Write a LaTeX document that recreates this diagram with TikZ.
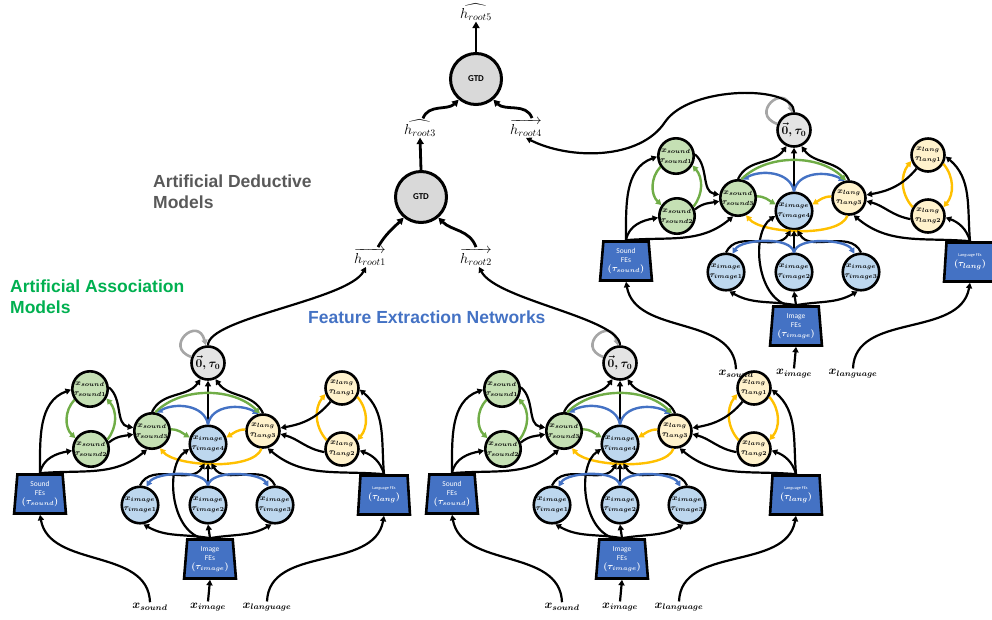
\documentclass[tikz,border=0pt]{standalone}
\usepackage[no-math]{fontspec}
\setsansfont{Carlito}
\newfontfamily\arialfont{Liberation Sans}
\usepackage{amsmath}
\usepackage{bm}
\usetikzlibrary{shapes.geometric,arrows.meta}
\definecolor{cgreen}{HTML}{C5E0B4}
\definecolor{cblue}{HTML}{BDD7EE}
\definecolor{cyellow}{HTML}{FFF2CC}
\definecolor{gtdfill}{HTML}{D9D9D9}
\definecolor{zfill}{HTML}{E4E4E4}
\definecolor{feblue}{HTML}{4472C4}
\definecolor{egreen}{HTML}{70AD47}
\definecolor{eblue}{HTML}{4472C4}
\definecolor{eyellow}{HTML}{FFC000}
\definecolor{loopgray}{HTML}{A6A6A6}
\definecolor{titlegray}{HTML}{595959}
\definecolor{titlegreen}{HTML}{00B050}
\newcommand{\ndtext}[2]{$\bm{x_{#1}}$\\$\bm{\tau_{#2}}$}
\tikzset{
 circ/.style={circle, draw=black, line width=2.6pt, minimum size=33pt, inner sep=0pt, align=center, font=\boldmath\fontsize{8.5}{10}\selectfont},
 gcirc/.style={circ, fill=cgreen},
 bcirc/.style={circ, fill=cblue},
 ycirc/.style={circ, fill=cyellow},
 zcirc/.style={circ, fill=zfill, font=\boldmath\fontsize{11.5}{12}\selectfont},
 gtd/.style={circle, draw=black, line width=3pt, fill=gtdfill, minimum size=51pt, inner sep=0pt, font=\sffamily\bfseries\fontsize{9}{10}\selectfont},
 fe/.style={trapezium, trapezium angle=84, trapezium stretches=true, minimum width=52pt, minimum height=39pt, draw=black, line width=2.6pt, fill=feblue, text=white, align=center, inner sep=0pt, font=\boldmath\sffamily\fontsize{7.5}{9}\selectfont},
 arr/.style={draw=black, line width=2.2pt, -{Triangle[length=5.5pt,width=6pt]}},
 tarr/.style={arr, line width=2.8pt, -{Triangle[length=6.5pt,width=7pt]}},
 garr/.style={arr, draw=egreen, line width=2.4pt},
 barr/.style={arr, draw=eblue, line width=2.4pt},
 yarr/.style={arr, draw=eyellow, line width=2.4pt},
 lparr/.style={arr, draw=loopgray, line width=2.6pt},
 xlab/.style={inner sep=1pt, font=\boldmath\fontsize{11.5}{12}\selectfont},
 hlab/.style={inner sep=1pt, font=\fontsize{14}{16}\selectfont},
 ttl/.style={anchor=north west, inner sep=0pt, align=left, font=\arialfont\bfseries\fontsize{17.5}{21}\selectfont},
}
\newcommand{\drawmodule}[2]{%
\begin{scope}[shift={#2}]
\node[zcirc] (#1z) at (208,-363) {$\bm{\vec{0}},\bm{\tau_0}$};
\node[gcirc] (#1s1) at (90,-389) {\ndtext{sound}{sound1}};
\node[gcirc] (#1s2) at (91,-449) {\ndtext{sound}{sound2}};
\node[gcirc] (#1s3) at (152,-431) {\ndtext{sound}{sound3}};
\node[bcirc] (#1i4) at (208,-444) {\ndtext{image}{image4}};
\node[ycirc] (#1l3) at (263,-431) {\ndtext{lang}{lang3}};
\node[ycirc] (#1l1) at (342,-388) {\ndtext{lang}{lang1}};
\node[ycirc] (#1l2) at (342,-449) {\ndtext{lang}{lang2}};
\node[bcirc] (#1i1) at (140,-505) {\ndtext{image}{image1}};
\node[bcirc] (#1i2) at (208,-505) {\ndtext{image}{image2}};
\node[bcirc] (#1i3) at (275,-505) {\ndtext{image}{image3}};
\node[fe] (#1sf) at (40,-494) {Sound\\FEs\\{\fontsize{9}{10}\selectfont$(\bm{\tau_{sound}})$}};
\node[fe] (#1if) at (210,-559) {Image\\FEs\\{\fontsize{9}{10}\selectfont$(\bm{\tau_{image}})$}};
\node[fe] (#1lf) at (384,-495) {{\fontsize{4.3}{6}\selectfont Language FEs}\\[1pt]{\fontsize{9.5}{10}\selectfont$(\bm{\tau_{lang}})$}};
\node[xlab] (#1xs) at (150,-607) {$\bm{x_{sound}}$};
\node[xlab] (#1xi) at (208,-607) {$\bm{x_{image}}$};
\node[xlab] (#1xl) at (267,-607) {$\bm{x_{language}}$};
\draw[lparr] (#1z.160) .. controls (163,-347) and (198,-315) .. (#1z.97);
\draw[arr] (#1i4.north) -- (#1z.south);
\draw[arr] (#1s3.north) to[out=65,in=-125] (#1z.-115);
\draw[arr] (#1l3.north) to[out=115,in=-55] (#1z.-65);
\draw[barr] (#1i4.north) to[out=100,in=30] (#1s3.75);
\draw[barr] (#1i4.north) to[out=80,in=150] (#1l3.105);
\draw[garr] (#1s3.80) to[out=45,in=135,looseness=0.9] (#1l3.100);
\draw[garr] (#1s3.5) to[out=0,in=150] (#1i4.160);
\draw[yarr] (#1l3.175) to[out=180,in=30] (#1i4.20);
\draw[yarr] (#1l3.-95) to[out=-110,in=-50,looseness=0.6] (#1s3.-65);
\draw[arr] (#1s1.5) to[out=-40,in=170] (#1s3.170);
\draw[arr] (#1s2.20) to[out=40,in=190] (#1s3.190);
\draw[garr] (#1s1.215) to[bend right=45] (#1s2.145);
\draw[garr] (#1s2.30) to[bend right=40] (#1s1.-30);
\draw[yarr] (#1l2.150) to[bend left=40] (#1l1.200);
\draw[yarr] (#1l1.-30) to[bend left=40] (#1l2.30);
\draw[arr] (#1l1.-130) to[out=-130,in=10] (#1l3.10);
\draw[arr] (#1l2.190) to[out=170,in=-15] (#1l3.-10);
\draw[arr] (#1sf.north) to[out=90,in=-160] (#1s1.182);
\draw[arr] (#1sf.north) to[out=80,in=-170] (#1s2.185);
\draw[arr] (#1sf.north) to[out=5,in=-140] (#1s3.-105);
\draw[arr] (#1lf.north) to[out=95,in=-40] (#1l1.-5);
\draw[arr] (#1lf.north) to[out=105,in=-20] (#1l2.-5);
\draw[arr] (#1lf.north) to[out=175,in=-40] (#1l3.-75);
\draw[arr] (#1if.north) to[out=170,in=-30] (#1i1.-80);
\draw[arr] (#1if.north) -- (#1i2.south);
\draw[arr] (#1if.north) to[out=10,in=-150] (#1i3.-100);
\draw[arr] ([xshift=-8pt]#1if.north) .. controls (170,-530) and (165,-465) .. (#1i4.195);
\draw[arr] (#1i1.north) to[out=65,in=-120] (#1i4.-100);
\draw[arr] (#1i2.north) -- (#1i4.south);
\draw[arr] (#1i3.north) to[out=115,in=-60] (#1i4.-80);
\draw[barr] (#1i2.north) to[out=100,in=60,looseness=0.7] (#1i1.70);
\draw[barr] (#1i2.north) to[out=80,in=120,looseness=0.7] (#1i3.110);
\draw[arr] (#1xs.north) to[out=92,in=-80] (#1sf.south);
\draw[arr] (#1xi.north) -- (#1if.south);
\draw[arr] (#1xl.north) to[out=88,in=-100] (#1lf.south);
\end{scope}}
\begin{document}
\begin{tikzpicture}[x=1pt,y=1pt]
\useasboundingbox (0,0) rectangle (992,-619);
\node[ttl, text=titlegray] (tded) at (153,-175) {Artificial Deductive\\Models};
\node[ttl, text=titlegreen] (tasso) at (10,-280) {Artificial Association\\Models};
\node[ttl, text=feblue] (tfen) at (308,-311) {Feature Extraction Networks};
\node[gtd] (g1) at (421,-197) {GTD};
\node[gtd] (g2) at (476,-79) {GTD};
\node[hlab] (hr5) at (476,-12) {$\widehat{h_{root5}}$};
\node[hlab] (hr3) at (420,-128) {$\widehat{h_{root3}}$};
\node[hlab] (hr4) at (526,-128) {$\overrightarrow{h_{root4}}$};
\node[hlab] (hr1) at (370,-257) {$\overrightarrow{h_{root1}}$};
\node[hlab] (hr2) at (476,-257) {$\overrightarrow{h_{root2}}$};
\draw[tarr] (g2.north) -- (hr5.south);
\draw[tarr] (g1.north) -- (hr3.south);
\draw[tarr] ([xshift=3pt]hr3.north) to[out=70,in=-135] (g2.-130);
\draw[tarr] ([xshift=6pt]hr4.north) to[out=110,in=-45] (g2.-50);
\draw[tarr] ([xshift=8pt]hr1.north) to[out=60,in=-135] (g1.-130);
\draw[tarr] (hr2.north) to[out=110,in=-45] (g1.-50);
\drawmodule{A}{(0,0)}
\drawmodule{B}{(412,0)}
\drawmodule{C}{(586,233)}
\draw[arr] (Az.north) .. controls (208,-318) and (348,-300) .. ([xshift=-4pt]hr1.south);
\draw[arr] (Bz.north) .. controls (620,-318) and (496,-300) .. ([xshift=3pt]hr2.south);
\draw[arr] (Cz.north) .. controls (795,-85) and (690,-85) .. (665,-122) .. controls (640,-160) and (570,-160) .. (hr4.south);
\end{tikzpicture}
\end{document}
